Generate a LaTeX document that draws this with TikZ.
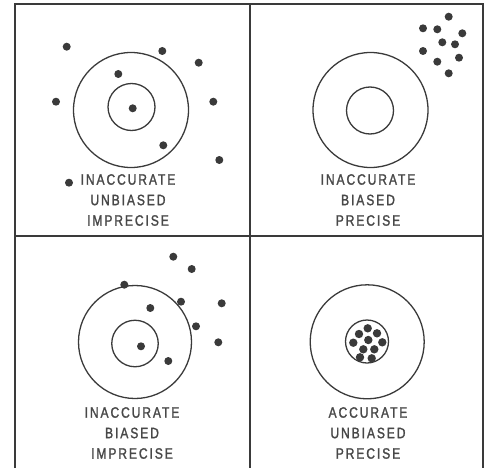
\documentclass[tikz,border=0pt]{standalone}
\usepackage{fontspec}
\newfontfamily\lab[FakeStretch=0.8,LetterSpace=13,FakeBold=1.6]{Liberation Sans}
\definecolor{ink}{HTML}{3A3A3A}
\definecolor{txt}{HTML}{484848}
\tikzset{
  frameline/.style={draw=ink,line width=1.7pt},
  ring/.style={circle,draw=ink,line width=1.3pt,inner sep=0pt},
  shot/.style={fill=ink},
  caption/.style={text=txt,align=center,inner sep=0pt,font=\lab\fontsize{15}{20.5}\selectfont}
}
\begin{document}
\begin{tikzpicture}[x=1pt,y=-1pt]
\useasboundingbox (0,0) rectangle (486,468);
% frame
\coordinate (tl) at (15,4);
\coordinate (tr) at (483,4);
\coordinate (bl) at (15,468);
\coordinate (br) at (483,468);
\coordinate (tm) at (250,4);
\coordinate (bm) at (250,468);
\coordinate (ml) at (15,236);
\coordinate (mr) at (483,236);
\draw[frameline] (bl) -- (tl) -- (tr) -- (br);
\draw[frameline] (tm) -- (bm);
\draw[frameline] (ml) -- (mr);
% panel 1
\node[ring,minimum size=115pt] (o1) at (131,110) {};
\node[ring,minimum size=47pt] (i1) at (131.5,107) {};
\foreach \p in {(66.7,46.7),(162.3,51),(198.7,62.7),(118.3,74),(56,101.7),(213.3,101.7),(132.7,108.3),(163.3,145.3),(219.3,160),(69,182.7)}
  \fill[shot] \p circle (4pt);
\node[caption] (c1) at (128,200) {INACCURATE\\UNBIASED\\IMPRECISE};
% panel 2
\node[ring,minimum size=115pt] (o2) at (370.5,110) {};
\node[ring,minimum size=47pt] (i2) at (370,110.5) {};
\foreach \p in {(448.7,16.7),(423,28.3),(437.3,29.3),(462.3,33.3),(442.3,42.3),(455,44.3),(423,51),(459,57.7),(437.3,61.7),(448.7,73.3)}
  \fill[shot] \p circle (4pt);
\node[caption] (c2) at (368,200) {INACCURATE\\BIASED\\PRECISE};
% panel 3
\node[ring,minimum size=113pt] (o3) at (135,342) {};
\node[ring,minimum size=46.5pt] (i3) at (135,343.5) {};
\foreach \p in {(173.3,256.7),(191.7,269),(124.3,284.7),(181,301.7),(221.7,303.3),(150.3,308),(196,326.3),(218.3,342.3),(141,346.3),(168.3,361)}
  \fill[shot] \p circle (4pt);
\node[caption] (c3) at (132,433) {INACCURATE\\BIASED\\IMPRECISE};
% panel 4
\node[ring,minimum size=114pt] (o4) at (367.2,341.8) {};
\node[ring,minimum size=43pt] (i4) at (367,341.5) {};
\foreach \p in {(367.7,328.3),(359,334),(377,333.3),(368.3,340),(353.3,342.7),(382.3,342.3),(363.3,349.3),(374.3,349.3),(360,357.3),(371.7,358.3)}
  \fill[shot] \p circle (4.2pt);
\node[caption] (c4) at (368,433) {ACCURATE\\UNBIASED\\PRECISE};
\end{tikzpicture}
\end{document}
